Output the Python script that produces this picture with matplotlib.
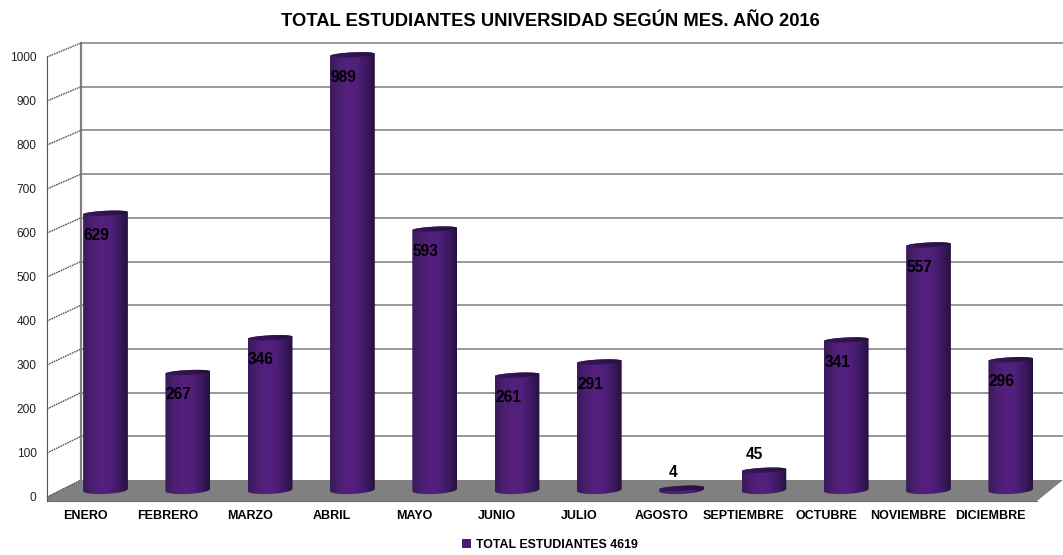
import numpy as np
import matplotlib
matplotlib.use("Agg")
import matplotlib.pyplot as plt
from matplotlib.colors import LinearSegmentedColormap
from matplotlib.patches import Polygon, Rectangle

months = ["ENERO", "FEBRERO", "MARZO", "ABRIL", "MAYO", "JUNIO", "JULIO",
          "AGOSTO", "SEPTIEMBRE", "OCTUBRE", "NOVIEMBRE", "DICIEMBRE"]
students = [629, 267, 346, 989, 593, 261, 291, 4, 45, 341, 557, 296]
y_ticks = list(range(0, 1001, 100))
title = "TOTAL ESTUDIANTES UNIVERSIDAD SEGÚN MES. AÑO 2016"
legend_label = "TOTAL ESTUDIANTES 4619"

W, H = 1063, 555
plt.rcParams["font.family"] = ["Liberation Sans", "DejaVu Sans"]
fig = plt.figure(figsize=(W / 100, H / 100), dpi=100, facecolor="white")


def px_axes(left, top, right, bottom, z):
    ax = fig.add_axes([left / W, 1 - bottom / H, (right - left) / W, (bottom - top) / H], zorder=z)
    ax.patch.set_alpha(0)
    return ax


# Full-figure overlay in pixel coordinates for the 3D frame decoration
deco = px_axes(0, 0, W, H, 1)
deco.set_xlim(0, W)
deco.set_ylim(H, 0)
deco.axis("off")
deco.add_patch(Polygon([(47, 497), (81, 480), (1063, 480), (1037, 501), (47, 501)],
                       closed=True, fc="#808080", ec="none"))
deco.plot([47, 1037], [501, 501], color="#6e6e6e", lw=0.8)
deco.plot([47, 47], [57, 501], color="#555555", lw=0.8)
deco.plot([81, 81], [43, 480], color="#808080", lw=1.6)

# Back wall gridlines
wall = px_axes(81, 43, W, 480, 2)
wall.set_xlim(0, 1)
wall.set_ylim(0, 1000)
wall.axis("off")
for v in y_ticks[1:]:
    wall.plot([0, 1], [v, v], color="#868686", lw=1.2, solid_capstyle="butt", clip_on=False)

# Front axis: tick labels and dotted connectors to the back wall
front = px_axes(47, 57, 81, 497, 3)
front.set_xlim(0, 1)
front.set_ylim(0, 1000)
front.axis("off")
for v in y_ticks:
    y_back = v + (497 - 480 - v * (440 - 437) / 1000) / 0.44
    front.plot([0, 1], [v, y_back], color="#555555", lw=1.0, ls=(0, (1.2, 0.6)), clip_on=False)
    front.annotate(str(v), (0, v), xytext=(-7.5, -0.6), textcoords="offset points", ha="right", va="center",
                   fontsize=8.6, color="#222222", annotation_clip=False)

# Cylinders
cmap = LinearSegmentedColormap.from_list("cyl", ["#3a1a5a", "#4a1f70", "#55207f", "#501f7a", "#3e1a64", "#27103f"])
grad = np.linspace(0, 1, 128).reshape(1, -1)
cap_grad = grad * 0.15 + 0.85

step = 82.3
x0 = 105.5
bars = px_axes(x0 - 0.5 * step, 6, x0 + 11.5 * step, 510, 4)
bars.axis("off")
half = 0.272
ry_bottom = 9.0   # front ellipse half-height, value units
ry_top = 5.5
tilt = 2.5        # rise of the ellipse towards the right, value units
t = np.linspace(np.pi, 2 * np.pi, 40)
t2 = np.linspace(0, np.pi, 40)
for i, v in enumerate(students):
    bottom_x = i + half * np.cos(t)
    bottom_y = tilt * np.cos(t) + ry_bottom * np.sin(t)
    top_x = i + half * np.cos(t2)
    top_y = v + tilt * np.cos(t2) + ry_top * np.sin(t2)
    outline = Polygon(np.column_stack([np.r_[bottom_x, top_x], np.r_[bottom_y, top_y]]),
                      closed=True, transform=bars.transData, fc="none", ec="none")
    bars.add_patch(outline)
    im = bars.imshow(grad, cmap=cmap, vmin=0, vmax=1, aspect="auto", interpolation="bilinear",
                     extent=[i - half, i + half, -12, v + 12])
    im.set_clip_path(outline)
    angles = np.r_[t, t2]
    cap = Polygon(np.column_stack([i + half * np.cos(angles),
                                   v + tilt * np.cos(angles) + ry_top * np.sin(angles)]),
                  closed=True, transform=bars.transData, fc="none", ec="none")
    bars.add_patch(cap)
    im2 = bars.imshow(cap_grad, cmap=cmap, vmin=0, vmax=1, aspect="auto", interpolation="bilinear",
                      extent=[i - half, i + half, v - 12, v + 12])
    im2.set_clip_path(cap)
    offset = (-6.5, 11) if v < 100 else (-6.5, -16)
    bars.annotate(str(v), (i, v), xytext=offset, textcoords="offset points", ha="center", va="center",
                  fontsize=11.2, fontweight="bold", color="black", zorder=6)
    bars.annotate(months[i], (i, 0), xytext=(-14.5, -18.5), textcoords="offset points", ha="center",
                  va="center", fontsize=9, fontweight="bold", color="black", annotation_clip=False)
bars.set_xlim(-0.5, 11.5)
bars.set_ylim(-20 / 0.44, 484 / 0.44)

# Title and legend
fig.text(550 / W, 1 - 21 / H, title, ha="center", va="center", fontsize=13.2, fontweight="bold", color="black")
deco.add_patch(Rectangle((462, 539), 9, 9, fc="#4a1d75", ec="none"))
fig.text(476 / W, 1 - 545 / H, legend_label, ha="left", va="center", fontsize=8.9, fontweight="bold", color="black")

fig.savefig("out.png", dpi=100)
